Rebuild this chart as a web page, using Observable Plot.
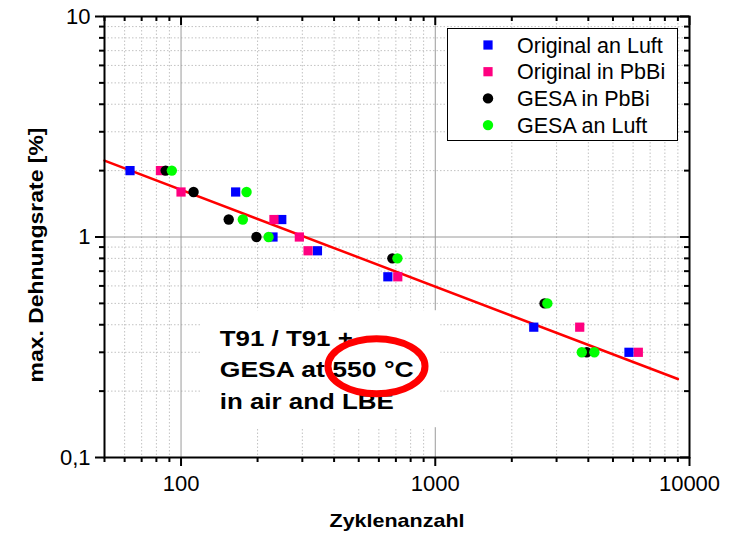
<!DOCTYPE html>
<html><head><meta charset="utf-8">
<script src="https://cdn.jsdelivr.net/npm/d3@7"></script>
<script src="https://cdn.jsdelivr.net/npm/@observablehq/plot@0.6"></script>
<style>html,body{margin:0;padding:0;background:#fff;}</style>
</head><body><div id="chart"></div>
<script>
// ---------- data ----------
const seriesNames = ["Original an Luft", "Original in PbBi", "GESA in PbBi", "GESA an Luft"];
const seriesColors = ["#0000ff", "#ff0080", "#000000", "#00ff00"];
const seriesSymbols = ["square", "square", "circle", "circle"];

const cyclesOrigLuft = [63, 164, 249, 230, 344, 651, 2440, 5780];
const strainOrigLuft = [2.0, 1.6, 1.2, 1.0, 0.866, 0.66, 0.39, 0.30];
const cyclesOrigPbBi = [83, 100, 232, 292, 316, 712, 3700, 6290];
const strainOrigPbBi = [2.0, 1.6, 1.2, 1.0, 0.866, 0.66, 0.39, 0.30];
const cyclesGesaPbBi = [87, 112, 154, 198, 678, 2690, 3945];
const strainGesaPbBi = [2.0, 1.6, 1.2, 1.0, 0.80, 0.50, 0.30];
const cyclesGesaLuft = [92, 181, 175, 221, 710, 2760, 3770, 4225];
const strainGesaLuft = [2.0, 1.6, 1.2, 1.0, 0.80, 0.50, 0.30, 0.30];

const fitCycles = [50, 9000];
const fitStrain = [2.22, 0.227];

const xMajorTicks = [100, 1000, 10000];
const xMinorTicks = [50, 60, 70, 80, 90, 200, 300, 400, 500, 600, 700, 800, 900,
                     2000, 3000, 4000, 5000, 6000, 7000, 8000, 9000];
const yMajorTicks = [0.1, 1, 10];
const yMinorTicks = [0.2, 0.3, 0.4, 0.5, 0.6, 0.7, 0.8, 0.9, 2, 3, 4, 5, 6, 7, 8, 9];

const xTitle = "Zyklenanzahl";
const yTitle = "max. Dehnungsrate [%]";

const noteLines = ["T91 / T91 +", "GESA at 550 °C", "in air and LBE"];
const noteCycles = [142, 142, 142];
const noteStrain = [0.345, 0.25, 0.179];
const noteBoxCycles = [119.5, 1052];
const noteBoxStrain = [0.1365, 0.463];
const ellipseCycles = 590;
const ellipseStrain = 0.258;

// ---------- layout / style ----------
const W = 738, H = 535, mT = 16, mL = 104, mR = 49, mB = 78;
const plotH = H - mT - mB, plotW = W - mL - mR;
const font = "'Liberation Sans', Arial, Helvetica, sans-serif";
const dotR = 5.2;
const noteWidths = [133, 194, 174];

const seriesData = [
  cyclesOrigLuft.map((c, i) => ({cycles: c, strain: strainOrigLuft[i]})),
  cyclesOrigPbBi.map((c, i) => ({cycles: c, strain: strainOrigPbBi[i]})),
  cyclesGesaPbBi.map((c, i) => ({cycles: c, strain: strainGesaPbBi[i]})),
  cyclesGesaLuft.map((c, i) => ({cycles: c, strain: strainGesaLuft[i]}))
];
const fitData = fitCycles.map((c, i) => ({cycles: c, strain: fitStrain[i]}));
const noteData = noteLines.map((t, i) => ({text: t, cycles: noteCycles[i], strain: noteStrain[i]}));
const boxData = [{x1: noteBoxCycles[0], x2: noteBoxCycles[1], y1: noteBoxStrain[0], y2: noteBoxStrain[1]}];

const tickStyle = {stroke: "black", strokeWidth: 2};

const chart = Plot.plot({
  width: W, height: H,
  marginTop: mT, marginLeft: mL, marginRight: mR, marginBottom: mB,
  style: {fontFamily: font, fontSize: "22px", color: "black", background: "white"},
  x: {type: "log", domain: [50, 10000], axis: null},
  y: {type: "log", domain: [0.1, 10], axis: null},
  marks: [
    Plot.gridX(xMinorTicks.filter(d => d !== 50), {stroke: "#c2c2c2", strokeOpacity: 1, strokeDasharray: "1.5,2"}),
    Plot.gridY(yMinorTicks, {stroke: "#c2c2c2", strokeOpacity: 1, strokeDasharray: "1.5,2"}),
    Plot.gridX([100, 1000], {stroke: "#9a9a9a", strokeOpacity: 1}),
    Plot.gridY([1], {stroke: "#9a9a9a", strokeOpacity: 1}),
    Plot.rect(boxData, {x1: "x1", x2: "x2", y1: "y1", y2: "y2", fill: "white"}),
    Plot.line(fitData, {x: "cycles", y: "strain", stroke: "red", strokeWidth: 2.5}),
    ...seriesData.map((d, i) => Plot.dot(d, {x: "cycles", y: "strain", symbol: seriesSymbols[i], fill: seriesColors[i], r: dotR})),
    Plot.text(noteData, {x: "cycles", y: "strain", text: "text", textAnchor: "start", fontWeight: "bold", fontSize: 22}),
    // outward ticks bottom / left
    Plot.tickX(xMajorTicks, {x: d => d, insetTop: plotH, insetBottom: -9, ...tickStyle}),
    Plot.tickX(xMinorTicks, {x: d => d, insetTop: plotH, insetBottom: -5, ...tickStyle}),
    Plot.tickY(yMajorTicks, {y: d => d, insetRight: plotW, insetLeft: -9, ...tickStyle}),
    Plot.tickY(yMinorTicks, {y: d => d, insetRight: plotW, insetLeft: -5, ...tickStyle}),
    // inward ticks top / right
    Plot.tickX(xMajorTicks, {x: d => d, insetBottom: plotH - 9, ...tickStyle}),
    Plot.tickX(xMinorTicks, {x: d => d, insetBottom: plotH - 5, ...tickStyle}),
    Plot.tickY(yMajorTicks, {y: d => d, insetLeft: plotW - 9, ...tickStyle}),
    Plot.tickY(yMinorTicks, {y: d => d, insetLeft: plotW - 5, ...tickStyle}),
    // tick labels
    Plot.text(xMajorTicks, {x: d => d, frameAnchor: "bottom", dy: 18, lineAnchor: "top", text: d => String(d), fontSize: 22}),
    Plot.text(yMajorTicks, {y: d => d, frameAnchor: "left", dx: -14, textAnchor: "end", text: d => String(d).replace(".", ","), fontSize: 22}),
    // axis titles
    Plot.text([xTitle], {frameAnchor: "bottom", dy: 63.5, textAnchor: "middle", lineAnchor: "middle", text: d => d, fontWeight: "bold", fontSize: 18.5}),
    Plot.text([yTitle], {frameAnchor: "left", dx: -68, dy: 18, rotate: -90, textAnchor: "middle", lineAnchor: "middle", text: d => d, fontWeight: "bold", fontSize: 19.5}),
    Plot.frame({stroke: "black", strokeWidth: 2})
  ]
});

document.getElementById("chart").appendChild(chart);
const svg = d3.select(chart);

// stretch texts to the reference widths
const allTexts = svg.selectAll("text");
allTexts.filter(function () { return noteLines.includes(this.textContent); })
  .each(function () {
    const i = noteLines.indexOf(this.textContent);
    d3.select(this).attr("textLength", noteWidths[i]).attr("lengthAdjust", "spacingAndGlyphs");
  });
allTexts.filter(function () { return this.textContent === xTitle; })
  .attr("textLength", 135).attr("lengthAdjust", "spacingAndGlyphs");
allTexts.filter(function () { return this.textContent === yTitle; })
  .attr("textLength", 255).attr("lengthAdjust", "spacingAndGlyphs");

// legend
const lg = svg.append("g").attr("font-family", font).attr("text-anchor", "start");
lg.append("rect").attr("x", 447.5).attr("y", 28.5).attr("width", 230).attr("height", 112)
  .attr("fill", "white").attr("stroke", "black").attr("stroke-width", 1);
seriesNames.forEach((name, i) => {
  const cy = 45 + i * 26.7;
  const sym = seriesSymbols[i] === "square" ? d3.symbolSquare : d3.symbolCircle;
  lg.append("path").attr("transform", `translate(488,${cy})`)
    .attr("d", d3.symbol(sym, Math.PI * dotR * dotR)())
    .attr("fill", seriesColors[i]);
  lg.append("text").attr("x", 517).attr("y", cy).attr("dy", "0.36em")
    .attr("text-anchor", "start")
    .attr("font-size", 21.5).attr("fill", "black").text(name);
});

// red highlight ellipse
const sx = chart.scale("x"), sy = chart.scale("y");
svg.append("ellipse")
  .attr("cx", sx.apply(ellipseCycles)).attr("cy", sy.apply(ellipseStrain))
  .attr("rx", 48.5).attr("ry", 27.5)
  .attr("fill", "none").attr("stroke", "red").attr("stroke-width", 7);
</script>
</body></html>
